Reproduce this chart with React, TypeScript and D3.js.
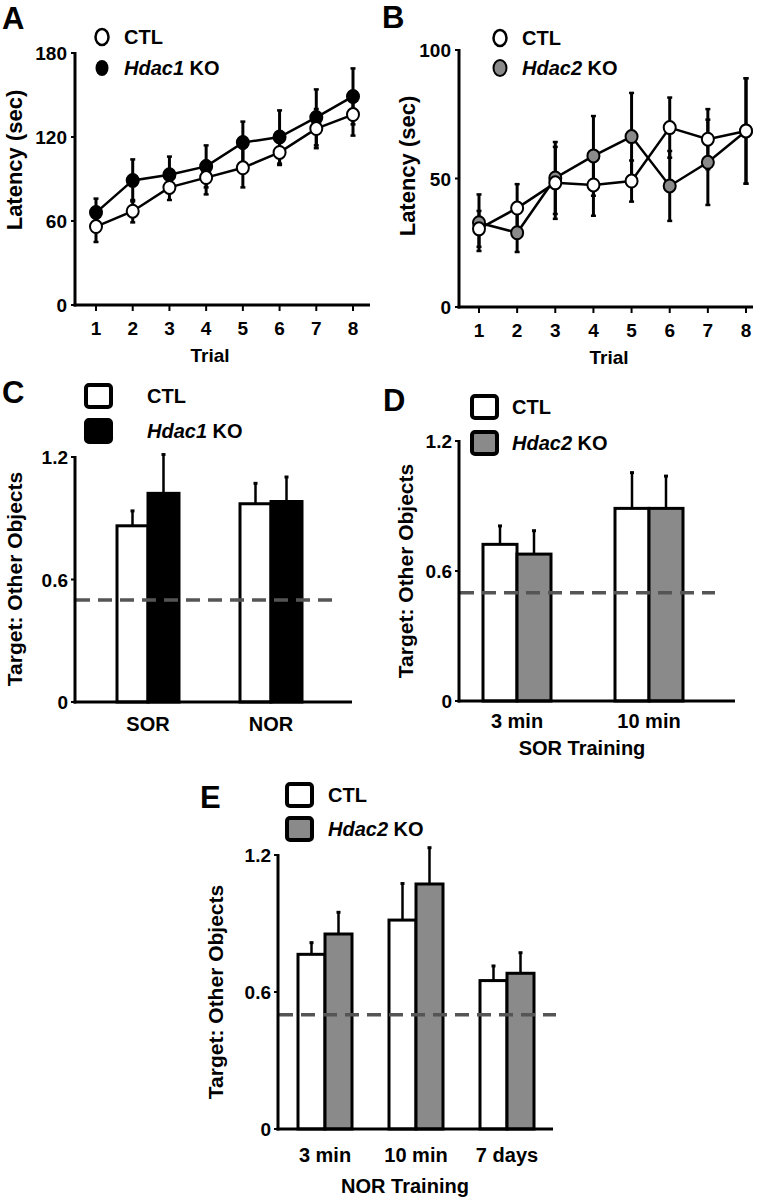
import React from "react";
import * as d3 from "d3";

// ---------- DATA ----------
const trials = [1, 2, 3, 4, 5, 6, 7, 8];

const aCtl = [56, 67, 84, 91, 98, 109, 126, 136];
const aCtlErr = [11, 8, 9, 12, 14, 9, 14, 15];
const aKo = [66, 89, 93, 99, 116, 120, 134, 149];
const aKoErr = [10, 15, 13, 15, 15, 19, 20, 20];
const aTicks = [0, 60, 120, 180];

const bCtl = [30.4, 38.5, 48.3, 47.5, 49, 69.8, 65.3, 68.5];
const bCtlErr = [7, 9.3, 14, 12, 8, 11.7, 11.7, 20.5];
const bKo = [32.8, 28.9, 50.2, 58.8, 66.3, 47.1, 56.3, 68.5];
const bKoErr = [11, 7.5, 14, 15.5, 17, 13.6, 16.6, 20.5];
const bTicks = [0, 50, 100];

const cGroups = ["SOR", "NOR"];
const cCtl = [0.863, 0.971];
const cCtlErr = [0.073, 0.1];
const cKo = [1.022, 0.982];
const cKoErr = [0.19, 0.12];

const dGroups = ["3 min", "10 min"];
const dCtl = [0.723, 0.889];
const dCtlErr = [0.085, 0.165];
const dKo = [0.678, 0.889];
const dKoErr = [0.108, 0.149];

const eGroups = ["3 min", "10 min", "7 days"];
const eCtl = [0.765, 0.915, 0.65];
const eCtlErr = [0.051, 0.16, 0.064];
const eKo = [0.854, 1.073, 0.682];
const eKoErr = [0.095, 0.159, 0.09];

const ratioTicks = [0, 0.6, 1.2];
const chanceLevel = 0.5;

// ---------- STYLE ----------
const FONT = "'Liberation Sans', Arial, Helvetica, sans-serif";
const GREY = "#8a8a8a";
const BLACK = "#000";
const DASH = "#555";

type LineLayout = {
  letter: string;
  letterX: number;
  letterY: number;
  axisX: number;
  yTop: number;
  yBottom: number;
  xEnd: number;
  xFirst: number;
  xLast: number;
  yMax: number;
  ticks: number[];
  yLabelX: number;
  yLabelY: number;
  xTitleX: number;
  legendX: number;
  legendY: number[];
  koFill: string;
  koName: string;
};

function Legend({ kind, x, ys, fill, name, textX }: any) {
  return (
    <g>
      {kind === "circle" ? (
        <>
          <ellipse cx={x} cy={ys[0]} rx={6.5} ry={8} fill="#fff" stroke={BLACK} strokeWidth={2.5} />
          <ellipse cx={x} cy={ys[1]} rx={6.5} ry={8} fill={fill} stroke={BLACK} strokeWidth={fill === BLACK ? 0 : 2} />
        </>
      ) : (
        <>
          <rect x={x} y={ys[0] - 11} width={25} height={22} rx={3} fill="#fff" stroke={BLACK} strokeWidth={4} />
          <rect x={x} y={ys[1] - 11} width={25} height={22} rx={3} fill={fill} stroke={BLACK} strokeWidth={4} />
        </>
      )}
      <text x={textX} y={ys[0] + 7} fontSize={20} fontWeight="bold" fontFamily={FONT}>
        CTL
      </text>
      <text x={textX} y={ys[1] + 7} fontSize={20} fontWeight="bold" fontFamily={FONT}>
        <tspan fontStyle="italic">{name}</tspan> KO
      </text>
    </g>
  );
}

function LinePanel({ L, ctl, ctlErr, ko, koErr }: { L: LineLayout; ctl: number[]; ctlErr: number[]; ko: number[]; koErr: number[] }) {
  const x = d3.scaleLinear().domain([1, 8]).range([L.xFirst, L.xLast]);
  const y = d3.scaleLinear().domain([0, L.yMax]).range([L.yBottom, L.yTop]);
  const line = d3
    .line<number>()
    .x((_, i) => x(trials[i]))
    .y((d) => y(d));
  const series = [
    { vals: ko, err: koErr, fill: L.koFill },
    { vals: ctl, err: ctlErr, fill: "#fff" },
  ];
  return (
    <g>
      <text x={L.letterX} y={L.letterY} fontSize={31} fontWeight="bold" fontFamily={FONT}>
        {L.letter}
      </text>
      {/* axes */}
      <line x1={L.axisX} x2={L.axisX} y1={L.yTop - 1} y2={L.yBottom + 1.5} stroke={BLACK} strokeWidth={3} />
      <line x1={L.axisX - 1.5} x2={L.xEnd} y1={L.yBottom} y2={L.yBottom} stroke={BLACK} strokeWidth={3} />
      {L.ticks.map((t) => (
        <g key={t}>
          <line x1={L.axisX - 4} x2={L.axisX} y1={y(t)} y2={y(t)} stroke={BLACK} strokeWidth={2} />
          <text x={L.axisX - 8} y={y(t) + 7} textAnchor="end" fontSize={19} fontWeight="bold" fontFamily={FONT}>
            {t}
          </text>
        </g>
      ))}
      {trials.map((t) => (
        <g key={t}>
          <line x1={x(t)} x2={x(t)} y1={L.yBottom} y2={L.yBottom + 6} stroke={BLACK} strokeWidth={2} />
          <text x={x(t)} y={L.yBottom + 30} textAnchor="middle" fontSize={19} fontWeight="bold" fontFamily={FONT}>
            {t}
          </text>
        </g>
      ))}
      <text x={L.xTitleX} y={L.yBottom + 57} textAnchor="middle" fontSize={19} fontWeight="bold" fontFamily={FONT}>
        Trial
      </text>
      <text
        transform={`translate(${L.yLabelX},${L.yLabelY}) rotate(-90)`}
        textAnchor="middle"
        dominantBaseline="central"
        fontSize={22}
        fontWeight="bold"
        fontFamily={FONT}
      >
        Latency (sec)
      </text>
      {/* error bars */}
      {series.map((s, si) =>
        s.vals.map((v, i) => (
          <g key={`e${si}-${i}`}>
            <line x1={x(trials[i])} x2={x(trials[i])} y1={y(v - s.err[i])} y2={y(v + s.err[i])} stroke={BLACK} strokeWidth={3} />
            <line x1={x(trials[i]) - 2.5} x2={x(trials[i]) + 2.5} y1={y(v + s.err[i])} y2={y(v + s.err[i])} stroke={BLACK} strokeWidth={2.5} />
            <line x1={x(trials[i]) - 2.5} x2={x(trials[i]) + 2.5} y1={y(v - s.err[i])} y2={y(v - s.err[i])} stroke={BLACK} strokeWidth={2.5} />
          </g>
        ))
      )}
      {series.map((s, si) => (
        <path key={`l${si}`} d={line(s.vals) || ""} fill="none" stroke={BLACK} strokeWidth={2.5} />
      ))}
      {series.map((s, si) =>
        s.vals.map((v, i) => (
          <ellipse key={`m${si}-${i}`} cx={x(trials[i])} cy={y(v)} rx={6} ry={6.5} fill={s.fill} stroke={BLACK} strokeWidth={2} />
        ))
      )}
      <Legend kind="circle" x={L.legendX} ys={L.legendY} fill={L.koFill} name={L.koName} textX={L.legendX + 22} />
    </g>
  );
}

type BarLayout = {
  letter: string;
  letterX: number;
  letterY: number;
  axisX: number;
  yTop: number;
  yBottom: number;
  xEnd: number;
  centers: [number, number];
  barW: number;
  yLabelX: number;
  yLabelY: number;
  catY: number;
  title?: string;
  titleX?: number;
  titleY?: number;
  legendX: number;
  legendY: number[];
  legendTextX: number;
  koFill: string;
  koName: string;
  dashX2: number;
};

function BarPanel({ L, groups, ctl, ctlErr, ko, koErr }: { L: BarLayout; groups: string[]; ctl: number[]; ctlErr: number[]; ko: number[]; koErr: number[] }) {
  const x = d3.scalePoint<string>().domain(groups).range(L.centers);
  const y = d3.scaleLinear().domain([0, 1.2]).range([L.yBottom, L.yTop]);
  const bars = [
    { vals: ctl, err: ctlErr, fill: "#fff", off: -L.barW },
    { vals: ko, err: koErr, fill: L.koFill, off: 0 },
  ];
  return (
    <g>
      <text x={L.letterX} y={L.letterY} fontSize={31} fontWeight="bold" fontFamily={FONT}>
        {L.letter}
      </text>
      {bars.map((b, bi) =>
        b.vals.map((v, i) => {
          const cx = x(groups[i])! + b.off + L.barW / 2;
          return (
            <g key={`b${bi}-${i}`}>
              <line x1={cx} x2={cx} y1={y(v)} y2={y(v + b.err[i])} stroke={BLACK} strokeWidth={2.5} />
              <line x1={cx - 2} x2={cx + 2} y1={y(v + b.err[i])} y2={y(v + b.err[i])} stroke={BLACK} strokeWidth={3} />
            </g>
          );
        })
      )}
      {bars.map((b, bi) =>
        b.vals.map((v, i) => (
          <rect
            key={`r${bi}-${i}`}
            x={x(groups[i])! + b.off}
            y={y(v)}
            width={L.barW}
            height={y(0) - y(v)}
            fill={b.fill}
            stroke={BLACK}
            strokeWidth={3}
          />
        ))
      )}
      <line x1={L.axisX + 1} x2={L.dashX2} y1={y(chanceLevel)} y2={y(chanceLevel)} stroke={DASH} strokeWidth={3.5} strokeDasharray="14 8" />
      <line x1={L.axisX} x2={L.axisX} y1={L.yTop - 1} y2={L.yBottom + 1.5} stroke={BLACK} strokeWidth={3} />
      <line x1={L.axisX - 1.5} x2={L.xEnd} y1={L.yBottom} y2={L.yBottom} stroke={BLACK} strokeWidth={3} />
      {ratioTicks.map((t) => (
        <g key={t}>
          <line x1={L.axisX - 4} x2={L.axisX} y1={y(t)} y2={y(t)} stroke={BLACK} strokeWidth={2} />
          <text x={L.axisX - 7} y={y(t) + 7} textAnchor="end" fontSize={19} fontWeight="bold" fontFamily={FONT}>
            {t}
          </text>
        </g>
      ))}
      {groups.map((g) => (
        <text key={g} x={x(g)} y={L.catY} textAnchor="middle" fontSize={20} fontWeight="bold" fontFamily={FONT}>
          {g}
        </text>
      ))}
      {L.title && (
        <text x={L.titleX} y={L.titleY} textAnchor="middle" fontSize={20} fontWeight="bold" fontFamily={FONT}>
          {L.title}
        </text>
      )}
      <text
        transform={`translate(${L.yLabelX},${L.yLabelY}) rotate(-90)`}
        textAnchor="middle"
        dominantBaseline="central"
        fontSize={21}
        fontWeight="bold"
        fontFamily={FONT}
      >
        Target: Other Objects
      </text>
      <Legend kind="square" x={L.legendX} ys={L.legendY} fill={L.koFill} name={L.koName} textX={L.legendTextX} />
    </g>
  );
}

const layoutA: LineLayout = {
  letter: "A", letterX: 2, letterY: 29, axisX: 75, yTop: 53, yBottom: 305, xEnd: 370,
  xFirst: 96, xLast: 353, yMax: 180, ticks: aTicks, yLabelX: 14, yLabelY: 160, xTitleX: 210,
  legendX: 102, legendY: [37, 68], koFill: BLACK, koName: "Hdac1",
};
const layoutB: LineLayout = {
  letter: "B", letterX: 382, letterY: 28, axisX: 459, yTop: 50, yBottom: 307, xEnd: 753,
  xFirst: 479, xLast: 746, yMax: 100, ticks: bTicks, yLabelX: 407, yLabelY: 166, xTitleX: 609,
  legendX: 500, legendY: [38, 68], koFill: GREY, koName: "Hdac2",
};
const layoutC: BarLayout = {
  letter: "C", letterX: 2, letterY: 403, axisX: 75, yTop: 457, yBottom: 702, xEnd: 352,
  centers: [148, 271], barW: 31, yLabelX: 14, yLabelY: 579, catY: 731,
  legendX: 86, legendY: [396, 431], legendTextX: 147, koFill: BLACK, koName: "Hdac1", dashX2: 340,
};
const layoutD: BarLayout = {
  letter: "D", letterX: 383, letterY: 411, axisX: 459, yTop: 441, yBottom: 701, xEnd: 735,
  centers: [517, 649], barW: 34, yLabelX: 405, yLabelY: 571, catY: 728,
  title: "SOR Training", titleX: 582, titleY: 755,
  legendX: 472, legendY: [407, 443], legendTextX: 512, koFill: GREY, koName: "Hdac2", dashX2: 715,
};
const layoutE: BarLayout = {
  letter: "E", letterX: 200, letterY: 808, axisX: 278, yTop: 855, yBottom: 1129, xEnd: 553,
  centers: [325, 414, 507] as any, barW: 27, yLabelX: 215, yLabelY: 992, catY: 1162,
  title: "NOR Training", titleX: 405, titleY: 1193,
  legendX: 287, legendY: [795, 829], legendTextX: 328, koFill: GREY, koName: "Hdac2", dashX2: 556,
};

function BarPanelE() {
  // three groups: use scalePoint over explicit centers range via padding-free point scale
  return <BarPanel L={{ ...layoutE, centers: [325, 507] }} groups={eGroups} ctl={eCtl} ctlErr={eCtlErr} ko={eKo} koErr={eKoErr} />;
}

export default function App() {
  return (
    <svg
      width={759}
      height={1199}
      viewBox="0 0 759 1199"
      style={{ position: "absolute", left: 0, top: 0, background: "#fff" }}
    >
      <rect width={759} height={1199} fill="#fff" />
      <LinePanel L={layoutA} ctl={aCtl} ctlErr={aCtlErr} ko={aKo} koErr={aKoErr} />
      <LinePanel L={layoutB} ctl={bCtl} ctlErr={bCtlErr} ko={bKo} koErr={bKoErr} />
      <BarPanel L={layoutC} groups={cGroups} ctl={cCtl} ctlErr={cCtlErr} ko={cKo} koErr={cKoErr} />
      <BarPanel L={layoutD} groups={dGroups} ctl={dCtl} ctlErr={dCtlErr} ko={dKo} koErr={dKoErr} />
      <BarPanelE />
    </svg>
  );
}
